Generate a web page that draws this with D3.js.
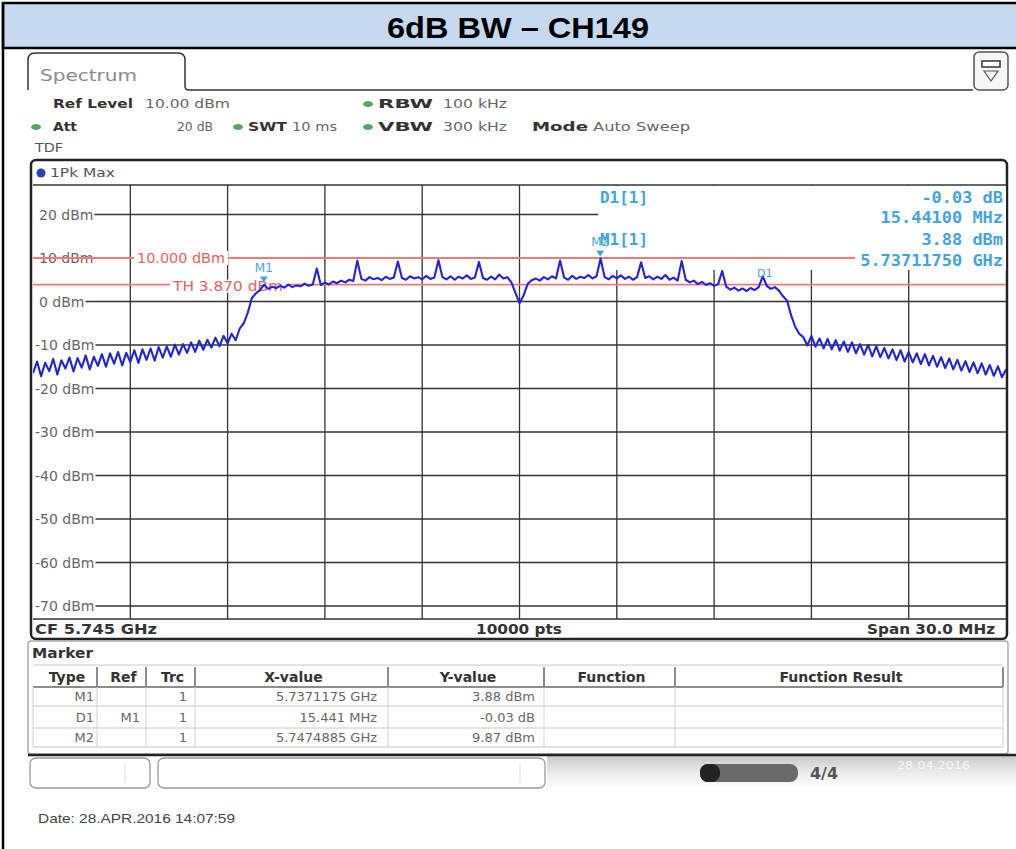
<!DOCTYPE html>
<html>
<head>
<meta charset="utf-8">
<script src="https://cdn.jsdelivr.net/npm/d3@7"></script>
<style>
  body { margin: 0; background: #fff; }
  svg { display: block; font-family: "DejaVu Sans", sans-serif; }
</style>
</head>
<body>
<div id="chart"></div>
<script>
// sweep: 5.730 .. 5.760 GHz, one reading every 0.125 MHz (dBm)
const sweepStartMHz = 5730;
const sweepStepMHz = 0.125;
const traceLevels = [
  -16.5, -13.8, -17.2, -14.1, -16.0, -13.2, -16.8, -13.5, -15.4, -12.9,
  -16.1, -13.0, -15.2, -12.4, -15.6, -12.7, -14.8, -12.1, -15.0, -11.9,
  -14.3, -11.6, -14.7, -11.8, -13.9, -11.2, -14.1, -11.0, -13.4, -10.8,
  -13.6, -10.5, -12.9, -10.3, -12.7, -9.9, -12.2, -9.8, -11.8, -9.4,
  -11.6, -9.0, -11.1, -8.8, -10.6, -8.3, -10.3, -7.9, -9.6, -7.4,
  -8.9, -6.2, -5.0, -2.5, 0.8, 1.9, 2.6, 3.88, 2.9, 3.4,
  3.1, 3.6, 3.2, 3.9, 3.3, 3.7, 3.5, 4.1, 3.6, 3.9,
  7.6, 3.8, 4.3, 3.9, 4.6, 4.2, 4.8, 4.4, 5.0, 4.7,
  9.4, 5.2, 4.8, 5.6, 5.1, 5.4, 4.9, 5.7, 5.2, 5.5,
  9.2, 5.4, 5.0, 5.8, 5.3, 5.6, 5.1, 5.9, 5.2, 5.5,
  9.5, 5.6, 5.1, 5.8, 5.0, 5.7, 5.3, 6.0, 5.2, 5.5,
  9.1, 5.4, 5.0, 5.7, 5.1, 6.2, 5.3, 5.6, 4.4, 2.0,
  -0.4, 1.4, 4.0, 4.9, 5.3, 4.8, 5.6, 5.1, 5.8, 5.3,
  9.4, 5.5, 5.0, 5.9, 5.2, 5.7, 5.4, 6.1, 5.3, 5.8,
  9.87, 5.6, 5.1, 5.9, 5.3, 6.0, 5.2, 5.7, 5.0, 5.6,
  9.0, 5.4, 5.8, 5.1, 5.7, 5.2, 6.1, 5.0, 5.5, 4.8,
  9.3, 5.0, 4.4, 4.8, 4.0, 4.5, 3.8, 4.2, 3.6, 4.0,
  7.0, 3.4, 2.7, 3.2, 2.5, 3.0, 2.4, 3.1, 2.6, 3.3,
  5.8, 3.6, 2.9, 3.3, 2.5, 1.2, 0.2, -3.2, -5.8, -7.4,
  -8.2, -10.1, -7.9, -10.4, -8.5, -10.8, -8.6, -11.0, -8.9, -11.3,
  -9.2, -11.6, -9.4, -11.9, -9.8, -12.2, -10.0, -12.6, -10.3, -12.8,
  -10.7, -13.1, -11.0, -13.5, -11.2, -13.8, -11.6, -14.0, -11.9, -14.4,
  -12.1, -14.7, -12.5, -15.0, -12.8, -15.3, -13.1, -15.6, -13.4, -15.9,
  -13.7, -16.2, -14.0, -16.5, -14.2, -16.8, -14.6, -17.1, -14.9, -17.4,
  -15.6
];

const levelTicks = [20, 10, 0, -10, -20, -30, -40, -50, -60, -70];
const freqTicks = [5733, 5736, 5739, 5742, 5745, 5748, 5751, 5754, 5757];
const displayLine = 10;
const thresholdLine = 3.87;

const markers = [
  { name: "M1", freq: 5737.1175, level: 3.88 },
  { name: "M2", freq: 5747.4885, level: 9.87 },
  { name: "D1", freq: 5752.5585, level: 3.85 }
];

const readoutLeft = ["D1[1]", "M1[1]"];
const readoutRight = ["-0.03 dB", "15.44100 MHz", "3.88 dBm", "5.73711750 GHz"];

const tableColumns = ["Type", "Ref", "Trc", "X-value", "Y-value", "Function", "Function Result"];
const tableRows = [
  ["M1", "", "1", "5.7371175 GHz", "3.88 dBm", "", ""],
  ["D1", "M1", "1", "15.441 MHz", "-0.03 dB", "", ""],
  ["M2", "", "1", "5.7474885 GHz", "9.87 dBm", "", ""]
];

const width = 1016, height = 849;
const svg = d3.select("#chart").append("svg")
  .attr("width", width)
  .attr("height", height);

function label(g, s, x, y, o = {}) {
  const t = g.append("text")
    .attr("x", x).attr("y", y)
    .attr("font-size", o.size || 13)
    .attr("fill", o.fill || "#555")
    .attr("text-anchor", o.anchor || "start")
    .text(s);
  if (o.bold) t.attr("font-weight", "bold");
  if (o.family) t.attr("font-family", o.family);
  if (o.width) t.attr("textLength", o.width).attr("lengthAdjust", "spacingAndGlyphs");
  return t;
}

// title bar
svg.append("rect")
  .attr("x", 3).attr("y", 3).attr("width", 1030).attr("height", 45)
  .attr("fill", "#c6d9f1").attr("stroke", "#000").attr("stroke-width", 2.5);
svg.append("line")
  .attr("x1", 3).attr("x2", 3).attr("y1", 3).attr("y2", height)
  .attr("stroke", "#000").attr("stroke-width", 2.5);
label(svg, "6dB BW \u2013 CH149", 518, 38, {
  size: 30, bold: true, fill: "#000", anchor: "middle",
  family: "'Liberation Sans', Arial, sans-serif", width: 262
});

// Spectrum tab + header
svg.append("path")
  .attr("d", "M28,90 L28,60 Q28,53 35,53 L178,53 Q185,53 185,60 L185,86 Q185,90 189,90 L973,90")
  .attr("fill", "none").attr("stroke", "#333").attr("stroke-width", 1.5);
label(svg, "Spectrum", 40, 81, { size: 16, fill: "#8a8a8a", width: 97 });

const icon = svg.append("g");
icon.append("rect").attr("x", 974).attr("y", 52).attr("width", 34).attr("height", 38).attr("rx", 5)
  .attr("fill", "#f6f6f6").attr("stroke", "#555").attr("stroke-width", 1.5);
icon.append("rect").attr("x", 982).attr("y", 61).attr("width", 18).attr("height", 6)
  .attr("fill", "#fff").attr("stroke", "#333").attr("stroke-width", 1.5);
icon.append("path").attr("d", "M984,71 L998,71 L991,81 Z")
  .attr("fill", "none").attr("stroke", "#555").attr("stroke-width", 1.2);

const hdr = svg.append("g");
[[36, 127], [238, 127], [368, 104], [368, 127]].forEach(([cx, cy]) => {
  hdr.append("ellipse").attr("cx", cx).attr("cy", cy).attr("rx", 5).attr("ry", 3)
    .attr("fill", "#55a565");
});
label(hdr, "Ref Level", 53, 108, { bold: true, fill: "#333", width: 80 });
label(hdr, "10.00 dBm", 145, 108, { fill: "#666", width: 85 });
label(hdr, "RBW", 378, 108, { bold: true, fill: "#333", width: 55 });
label(hdr, "100 kHz", 443, 108, { fill: "#666", width: 64 });
label(hdr, "Att", 53, 131, { bold: true, fill: "#333", width: 24 });
label(hdr, "20 dB", 177, 131, { fill: "#666", width: 36 });
label(hdr, "SWT", 248, 131, { bold: true, fill: "#333", width: 39 });
label(hdr, "10 ms", 292, 131, { fill: "#666", width: 45 });
label(hdr, "VBW", 378, 131, { bold: true, fill: "#333", width: 55 });
label(hdr, "300 kHz", 443, 131, { fill: "#666", width: 64 });
label(hdr, "Mode", 532, 131, { bold: true, fill: "#333", width: 56 });
label(hdr, "Auto Sweep", 593, 131, { fill: "#666", width: 97 });
label(hdr, "TDF", 35, 152, { fill: "#555", width: 28 });

// plot
const plotLeft = 33, plotRight = 1006, gridTop = 185, gridBottom = 619;
const x = d3.scaleLinear().domain([5730, 5760]).range([plotLeft, plotRight]);
const y = d3.scaleLinear().domain([-70, 20]).range([606, 214.5]);

const plot = svg.append("g");
plot.append("rect")
  .attr("x", 31).attr("y", 160).attr("width", 976).attr("height", 479).attr("rx", 5)
  .attr("fill", "#fff").attr("stroke", "#222").attr("stroke-width", 2.5);
plot.append("circle").attr("cx", 41).attr("cy", 173).attr("r", 4.5).attr("fill", "#2d3fbf");
label(plot, "1Pk Max", 50, 177, { size: 12, fill: "#555", width: 65 });

const gridColor = "#333";
[gridTop, gridBottom].forEach(gy => {
  plot.append("line").attr("x1", plotLeft).attr("x2", plotRight).attr("y1", gy).attr("y2", gy)
    .attr("stroke", gridColor).attr("stroke-width", 1.3);
});
plot.selectAll("line.vgrid").data(freqTicks).enter().append("line")
  .attr("class", "vgrid")
  .attr("x1", d => x(d)).attr("x2", d => x(d))
  .attr("y1", gridTop).attr("y2", gridBottom)
  .attr("stroke", gridColor).attr("stroke-width", 1.3);

levelTicks.forEach(v => {
  const t = label(plot, `${v} dBm`, v < 0 ? 35 : 39, y(v) + 5, { size: 14, fill: "#666" });
  const end = (v < 0 ? 35 : 39) + t.node().getComputedTextLength() + 1;
  plot.append("line").attr("x1", end).attr("x2", plotRight).attr("y1", y(v)).attr("y2", y(v))
    .attr("stroke", gridColor).attr("stroke-width", 1.3);
});

// marker readout area blanks the grid
plot.append("rect").attr("x", 598).attr("y", 186).attr("width", 408).attr("height", 84).attr("fill", "#fff");

// display line + threshold
const red = "#f07a7a";
[displayLine, thresholdLine].forEach(v => {
  plot.append("line").attr("x1", plotLeft).attr("x2", plotRight).attr("y1", y(v)).attr("y2", y(v))
    .attr("stroke", red).attr("stroke-width", 1.8);
});
plot.append("rect").attr("x", 134).attr("y", y(displayLine) - 7).attr("width", 94).attr("height", 14).attr("fill", "#fff");
label(plot, "10.000 dBm", 137, y(displayLine) + 5, { size: 14, fill: "#e26464", width: 88 });
plot.append("rect").attr("x", 170).attr("y", y(thresholdLine) - 5).attr("width", 116).attr("height", 13).attr("fill", "#fff");
label(plot, "TH  3.870 dBm", 173, y(thresholdLine) + 6, { size: 14, fill: "#e26464", width: 110 });

// trace
svg.append("clipPath").attr("id", "plotClip").append("rect")
  .attr("x", plotLeft).attr("y", gridTop).attr("width", plotRight - plotLeft).attr("height", gridBottom - gridTop);
const line = d3.line()
  .x((d, i) => x(sweepStartMHz + i * sweepStepMHz))
  .y(d => y(d));
plot.append("path")
  .datum(traceLevels)
  .attr("clip-path", "url(#plotClip)")
  .attr("fill", "none")
  .attr("stroke", "#2323d8")
  .attr("stroke-width", 2.1)
  .attr("stroke-linejoin", "round")
  .attr("d", line);

// markers
const mColor = "#45a4da";
markers.forEach(m => {
  const mx = x(m.freq), my = y(m.level);
  if (m.name === "D1") {
    label(plot, m.name, mx, my - 8, { size: 11, fill: mColor, anchor: "middle" });
    return;
  }
  plot.append("path")
    .attr("d", `M${mx - 4},${my - 8} L${mx + 4},${my - 8} L${mx},${my - 2} Z`)
    .attr("fill", mColor);
  label(plot, m.name, mx, my - 13, { size: 12, fill: mColor, anchor: "middle" });
});

// marker readout
const mono = "'DejaVu Sans Mono', monospace";
const rY = [203, 223, 245, 266];
label(plot, readoutLeft[0], 600, rY[0], { size: 15, bold: true, fill: mColor, family: mono, width: 48 });
label(plot, readoutLeft[1], 600, rY[2], { size: 15, bold: true, fill: mColor, family: mono, width: 48 });
plot.append("rect").attr("x", 855).attr("y", 252).attr("width", 151).attr("height", 15).attr("fill", "#fff");
readoutRight.forEach((s, i) => {
  label(plot, s, 1003, rY[i], {
    size: 15, bold: true, fill: mColor, family: mono, anchor: "end", width: s.length * 10.2
  });
});

// CF / pts / span row
label(plot, "CF 5.745 GHz", 35, 634, { size: 14, bold: true, fill: "#333", width: 122 });
label(plot, "10000 pts", 519, 634, { size: 14, bold: true, fill: "#333", anchor: "middle", width: 86 });
label(plot, "Span 30.0 MHz", 995, 634, { size: 14, bold: true, fill: "#333", anchor: "end", width: 128 });

// marker table
const tbl = svg.append("g");
tbl.append("rect").attr("x", 28).attr("y", 641).attr("width", 980).attr("height", 113).attr("rx", 3)
  .attr("fill", "#fff").attr("stroke", "#aaa").attr("stroke-width", 1.5);
label(tbl, "Marker", 32, 658, { size: 14, bold: true, fill: "#333", width: 61 });

const colEdges = [33, 97, 146, 195, 388, 544, 675, 1003];
const rowEdges = [665, 687, 706, 728, 747];
const cellPad = [3, 6, 8, 11, 9, 8, 8];

rowEdges.forEach((ry, i) => {
  tbl.append("line").attr("x1", colEdges[0]).attr("x2", colEdges[7]).attr("y1", ry).attr("y2", ry)
    .attr("stroke", i === 1 ? "#666" : "#c8c8c8").attr("stroke-width", i === 1 ? 1.5 : 1);
});
colEdges.forEach((cx, i) => {
  tbl.append("line").attr("x1", cx).attr("x2", cx).attr("y1", rowEdges[1]).attr("y2", rowEdges[4])
    .attr("stroke", "#cfcfcf");
  if (i > 0) {
    tbl.append("line").attr("x1", cx).attr("x2", cx).attr("y1", rowEdges[0] + 2).attr("y2", rowEdges[1])
      .attr("stroke", "#666").attr("stroke-width", 1.5);
  }
});
tableColumns.forEach((c, i) => {
  label(tbl, c, (colEdges[i] + colEdges[i + 1]) / 2 + 2, 682, { size: 14, bold: true, fill: "#333", anchor: "middle" });
});
tableRows.forEach((row, r) => {
  const base = [701, 722, 742][r];
  row.forEach((s, i) => {
    if (!s) return;
    label(tbl, s, colEdges[i + 1] - cellPad[i], base, { size: 13, fill: "#666", anchor: "end" });
  });
});

// status bar
const bar = svg.append("g");
const grad = svg.append("defs").append("linearGradient").attr("id", "statusGrad")
  .attr("x1", 0).attr("x2", 0).attr("y1", 0).attr("y2", 1);
grad.append("stop").attr("offset", 0).attr("stop-color", "#c9c9c9");
grad.append("stop").attr("offset", 0.5).attr("stop-color", "#ececec");
grad.append("stop").attr("offset", 1).attr("stop-color", "#fff");
bar.append("rect").attr("x", 547).attr("y", 756).attr("width", 470).attr("height", 34).attr("fill", "url(#statusGrad)");
bar.append("line").attr("x1", 28).attr("x2", width).attr("y1", 755).attr("y2", 755)
  .attr("stroke", "#222").attr("stroke-width", 2.5);
[[30, 120, 125], [158, 387, 520]].forEach(([bx, bw, sep]) => {
  bar.append("rect").attr("x", bx).attr("y", 758).attr("width", bw).attr("height", 30).attr("rx", 6)
    .attr("fill", "#fff").attr("stroke", "#999").attr("stroke-width", 1.3);
  bar.append("line").attr("x1", sep).attr("x2", sep).attr("y1", 763).attr("y2", 783).attr("stroke", "#ddd");
});
bar.append("rect").attr("x", 700).attr("y", 764).attr("width", 98).attr("height", 18).attr("rx", 8).attr("fill", "#6a6a6a");
bar.append("rect").attr("x", 700).attr("y", 764).attr("width", 20).attr("height", 18).attr("rx", 8).attr("fill", "#222");
label(bar, "4/4", 810, 779, { size: 15, bold: true, fill: "#555", width: 28 });
label(bar, "28.04.2016", 897, 769, { size: 11, fill: "#f7f7f7", width: 73 });

label(svg, "Date: 28.APR.2016  14:07:59", 38, 823, {
  size: 13, fill: "#444", family: "'Liberation Sans', Arial, sans-serif", width: 197
});
</script>
</body>
</html>
